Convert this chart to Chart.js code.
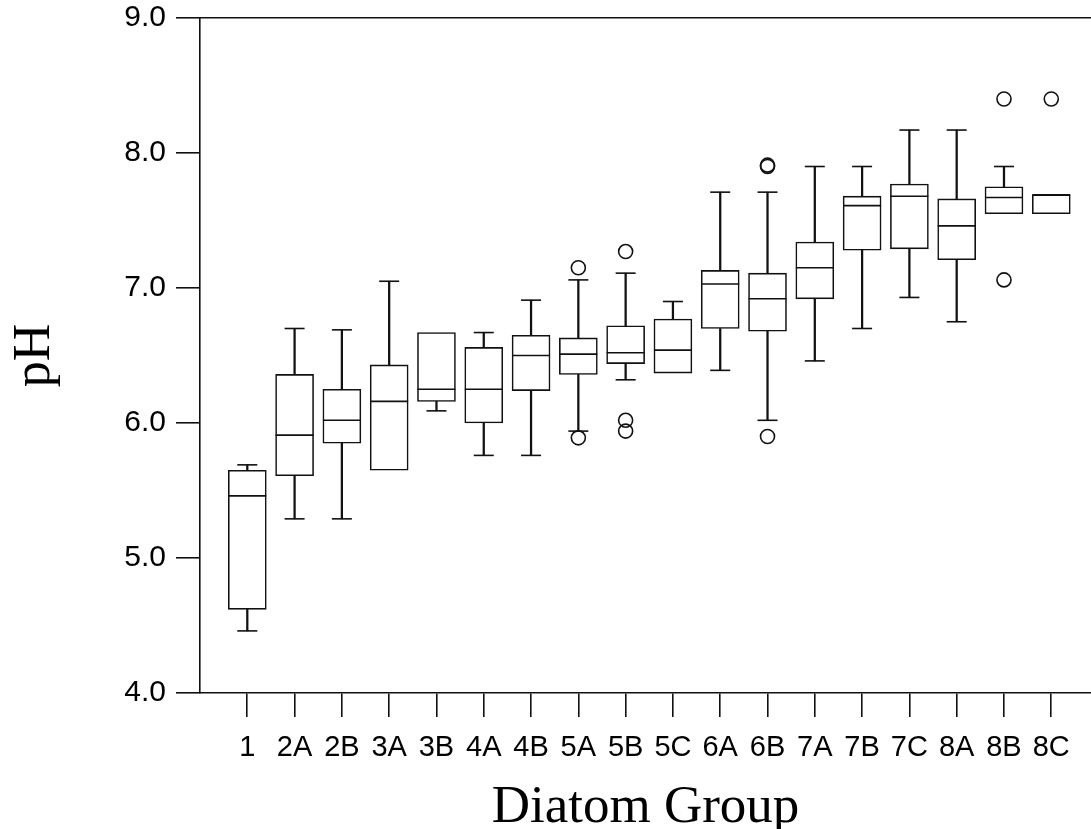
<!DOCTYPE html>
<html>
<head>
<meta charset="utf-8">
<script src="https://cdn.jsdelivr.net/npm/chart.js@4.4.1/dist/chart.umd.min.js"></script>
<style>
  html, body { margin: 0; padding: 0; background: #ffffff; overflow: hidden; }
  #wrap { position: relative; width: 1091px; height: 829px; }
</style>
</head>
<body>
<div id="wrap"><canvas id="c"></canvas></div>
<script>
const categories = ['1','2A','2B','3A','3B','4A','4B','5A','5B','5C','6A','6B','7A','7B','7C','8A','8B','8C'];
const whiskerHigh = [5.69, 6.70, 6.69, 7.05, null, 6.67, 6.91, 7.06, 7.11, 6.90, 7.71, 7.71, 7.90, 7.90, 8.17, 8.17, 7.90, null];
const q3Values    = [5.65, 6.36, 6.25, 6.43, 6.67, 6.56, 6.65, 6.63, 6.72, 6.77, 7.13, 7.11, 7.34, 7.68, 7.77, 7.66, 7.75, 7.69];
const medians     = [5.46, 5.91, 6.02, 6.16, 6.25, 6.25, 6.50, 6.51, 6.52, 6.54, 7.03, 6.92, 7.15, 7.61, 7.68, 7.46, 7.67, 7.69];
const q1Values    = [4.62, 5.61, 5.85, 5.65, 6.16, 6.00, 6.24, 6.36, 6.44, 6.37, 6.70, 6.68, 6.92, 7.28, 7.29, 7.21, 7.55, 7.55];
const whiskerLow  = [4.46, 5.29, 5.29, null, 6.09, 5.76, 5.76, 5.94, 6.32, null, 6.39, 6.02, 6.46, 6.70, 6.93, 6.75, null, null];
const outlierGroups = ['5A','5A','5B','5B','5B','6B','6B','6B','8B','8B','8C'];
const outlierValues = [7.15, 5.89, 7.27, 6.02, 5.94, 7.90, 7.91, 5.90, 8.40, 7.06, 8.40];
const yTicks = [4, 5, 6, 7, 8, 9];

const INK = '#111111';
const LW = 1.6;
const pos = i => i + 1;

const boxData = categories.map((c, i) => ({ x: pos(i), y: [q1Values[i], q3Values[i]] }));
const upperWhisker = [], lowerWhisker = [], caps = [];
categories.forEach((c, i) => {
  if (whiskerHigh[i] !== null) { upperWhisker.push({ x: pos(i), y: [q3Values[i], whiskerHigh[i]] }); caps.push({ x: pos(i), y: whiskerHigh[i] }); }
  if (whiskerLow[i] !== null)  { lowerWhisker.push({ x: pos(i), y: [whiskerLow[i], q1Values[i]] }); caps.push({ x: pos(i), y: whiskerLow[i] }); }
});
const medianData = categories.map((c, i) => ({ x: pos(i), y: medians[i] }));
const outlierData = outlierValues.map((v, k) => ({ x: pos(categories.indexOf(outlierGroups[k])), y: v }));

new Chart(document.getElementById('c'), {
  type: 'bar',
  data: {
    datasets: [
      { type: 'bar', data: upperWhisker, grouped: false, barThickness: LW, backgroundColor: INK, borderWidth: 0, order: 5 },
      { type: 'bar', data: lowerWhisker, grouped: false, barThickness: LW, backgroundColor: INK, borderWidth: 0, order: 5 },
      { type: 'bar', data: boxData, grouped: false, barThickness: 38, backgroundColor: '#ffffff', borderColor: INK, borderWidth: LW, borderSkipped: false, order: 4 },
      { type: 'scatter', data: medianData, pointStyle: 'line', radius: 19, hoverRadius: 19, borderColor: INK, borderWidth: LW, order: 3 },
      { type: 'scatter', data: caps, pointStyle: 'line', radius: 10, hoverRadius: 10, borderColor: INK, borderWidth: LW, order: 3 },
      { type: 'scatter', data: outlierData, pointStyle: 'circle', radius: 7, hoverRadius: 7, backgroundColor: 'rgba(255,255,255,0)', borderColor: INK, borderWidth: LW, order: 2 }
    ]
  },
  options: {
    responsive: true,
    maintainAspectRatio: false,
    animation: false,
    events: [],
    layout: { autoPadding: false, padding: { top: 18, right: 0, bottom: 0, left: 0 } },
    plugins: { legend: { display: false }, tooltip: { enabled: false } },
    scales: {
      x: {
        type: 'linear', position: 'bottom', min: 0, max: 18.84, offset: false,
        afterBuildTicks: s => { s.ticks = categories.map((c, i) => ({ value: pos(i) })); },
        afterFit: s => { s.height = 136; s.paddingLeft = 0; s.paddingRight = 0; },
        grid: { offset: false, drawOnChartArea: false, drawTicks: true, tickLength: 24, color: INK, lineWidth: LW },
        border: { display: true, color: INK, width: LW },
        ticks: {
          autoSkip: false, maxRotation: 0, minRotation: 0, padding: 14, color: '#000',
          font: { family: '"Liberation Sans", Arial, sans-serif', size: 29 },
          callback: v => categories[v - 1] ?? ''
        },
        title: {
          display: true, text: 'Diatom Group', color: '#000',
          font: { family: '"Liberation Serif", "Times New Roman", serif', size: 53, lineHeight: 0.8 },
          padding: { top: 0, bottom: 0 }
        }
      },
      xTop: {
        type: 'linear', position: 'top', min: 0, max: 18.84, offset: false,
        afterFit: s => { s.height = 0; s.paddingLeft = 0; s.paddingRight = 0; },
        grid: { display: true, offset: false, drawOnChartArea: false, drawTicks: false, color: INK },
        border: { display: true, color: INK, width: LW },
        ticks: { display: false }
      },
      y: {
        type: 'linear', position: 'left', min: 4, max: 9,
        afterBuildTicks: s => { s.ticks = yTicks.map(v => ({ value: v })); },
        afterFit: s => { s.width = 200; s.paddingTop = 0; s.paddingBottom = 0; },
        grid: { drawOnChartArea: false, drawTicks: true, tickLength: 24, color: INK, lineWidth: LW },
        border: { display: true, color: INK, width: LW },
        ticks: {
          padding: 10, color: '#000',
          font: { family: '"Liberation Sans", Arial, sans-serif', size: 30 },
          callback: v => Number(v).toFixed(1)
        },
        title: {
          display: true, text: 'pH', color: '#000',
          font: { family: '"Liberation Serif", "Times New Roman", serif', size: 52, lineHeight: 1 },
          padding: { top: 9, bottom: 0 }
        }
      }
    }
  }
});
</script>
</body>
</html>
